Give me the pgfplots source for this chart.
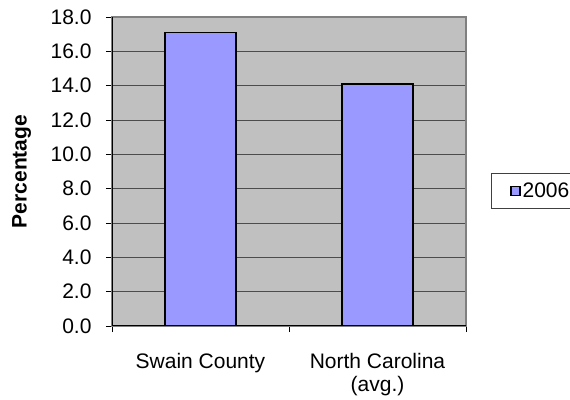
\documentclass[border=0pt]{standalone}
\usepackage{pgfplots}
\pgfplotsset{compat=1.18}
\usepackage{fontspec}
\setmainfont{Liberation Sans}
\definecolor{barblue}{HTML}{9999FF}
\definecolor{plotgray}{HTML}{C0C0C0}
\definecolor{bordergray}{HTML}{808080}
\begin{document}
\begin{tikzpicture}[font=\fontsize{21bp}{23bp}\selectfont]
\begin{axis}[
  at={(112bp,74bp)}, anchor=south west,
  scale only axis, width=354bp, height=309bp,
  xmin=-0.5, xmax=1.5, ymin=0, ymax=18,
  axis background/.style={fill=plotgray},
  axis line style={draw=bordergray, line width=1.6bp},
  ytick={0,2,...,18},
  ytick pos=left, xtick pos=bottom, tick align=outside,
  major tick length=6bp,
  tick style={draw=black, line width=0.8bp},
  ymajorgrids,
  major grid style={draw=black!70, line width=0.8bp},
  yticklabel style={xshift=-11bp, /pgf/number format/fixed, /pgf/number format/fixed zerofill, /pgf/number format/precision=1, /pgf/number format/assume math mode=true},
  xtick={-0.5,0.5,1.5}, xticklabels={},
  extra x ticks={0,1},
  extra x tick labels={Swain County, {North Carolina\\(avg.)}},
  extra x tick style={major tick length=0bp, grid=none,
    xticklabel style={align=center, yshift=-24bp}},
  ylabel={\bfseries Percentage},
  ylabel style={at={(axis description cs:-0.255,0.5)}, anchor=center},
  bar width=71bp,
  legend style={at={(1.070,0.437)}, anchor=west, draw=black!75, line width=0.8bp,
    fill=white, font=\fontsize{21bp}{23bp}\selectfont,
    inner xsep=19bp, inner ysep=7bp,
    /tikz/every even column/.append style={column sep=0bp}},
  legend image code/.code={\draw[black, line width=1.4bp, fill=barblue] (0bp,-4.5bp) rectangle (9bp,4.5bp);},
]
\addplot[ybar, draw=black, line width=1.6bp, fill=barblue] coordinates {(0,17.1) (1,14.1)};
\addlegendentry{2006}
\draw[black, line width=1.2bp] (rel axis cs:0,0) -- (rel axis cs:0,1);
\draw[black, line width=1.6bp] (rel axis cs:0,0) -- (rel axis cs:1,0);
\end{axis}
\pgfresetboundingbox
\path[use as bounding box] (0,0) rectangle (570bp,400bp);
\end{tikzpicture}
\end{document}
